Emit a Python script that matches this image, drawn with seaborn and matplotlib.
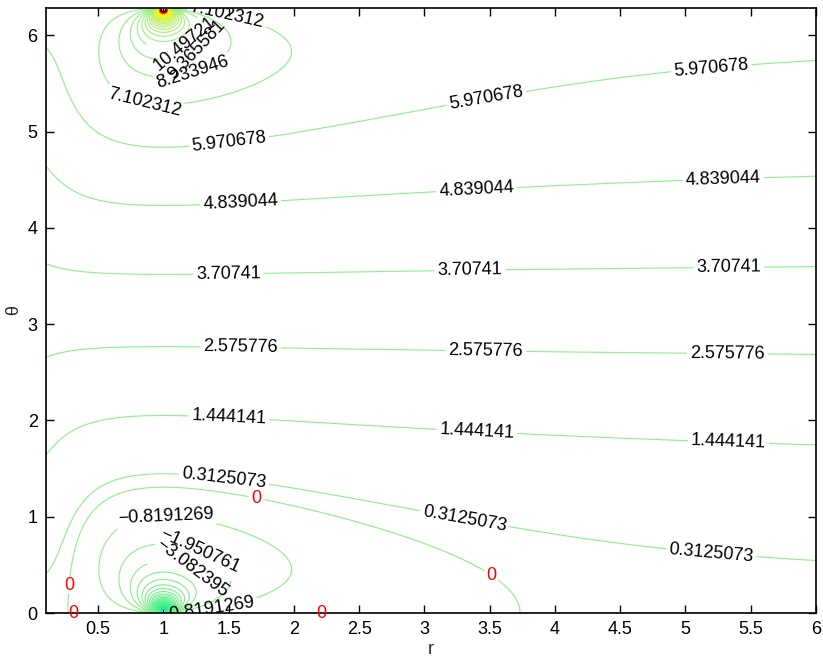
import numpy as np
import matplotlib
matplotlib.use("Agg")
import matplotlib.pyplot as plt
from matplotlib.colors import LinearSegmentedColormap
import seaborn as sns

# ---- data ----
r_range = [0.1, 6.0]
theta_range = [0.0, 2 * np.pi]
dipole_strength = 2.0          # f = theta + k * Im(1/(z-1)),  z = r e^{i theta}
level_step = 1.131634
labeled_levels = [-3.082395, -1.950761, -0.8191269, 0.3125073, 1.444141,
                  2.575776, 3.70741, 4.839044, 5.970678, 7.102312,
                  8.233946, 9.365581, 10.49721]
zero_level = [0.0]
x_ticks = [0.5, 1, 1.5, 2, 2.5, 3, 3.5, 4, 4.5, 5, 5.5, 6]
y_ticks = [0, 1, 2, 3, 4, 5, 6]

# label anchor points (r, theta) per level
label_points = {
    10.49721: [(1.12, 6.02)],
    9.365581: [(1.24, 5.88)],
    8.233946: [(1.22, 5.64)],
    7.102312: [(0.86, 5.36), (1.48, 6.16)],
    5.970678: [(1.50, 4.91), (3.48, 5.30), (5.20, 5.64)],
    4.839044: [(1.59, 4.25), (3.40, 4.38), (5.29, 4.49)],
    3.70741: [(1.50, 3.52), (3.35, 3.55), (5.33, 3.58)],
    2.575776: [(1.59, 2.73), (3.47, 2.70), (5.32, 2.67)],
    1.444141: [(1.50, 2.01), (3.40, 1.87), (5.33, 1.77)],
    0.3125073: [(1.46, 1.36), (3.31, 1.00), (5.20, 0.64)],
    -0.8191269: [(1.02, 1.07), (1.33, 0.07)],
    -1.950761: [(1.30, 0.72)],
    -3.082395: [(1.22, 0.48)],
    0.0: [(0.29, 0.28), (1.71, 1.17), (3.50, 0.37)],
}
zero_axis_labels = [(0.31, 0.0), (2.21, 0.0)]

# ---- field ----
r = np.linspace(r_range[0], r_range[1], 1400)
th = np.linspace(theta_range[0], theta_range[1], 1400)
R, TH = np.meshgrid(r, th)
with np.errstate(divide="ignore", invalid="ignore"):
    F = TH - dipole_strength * R * np.sin(TH) / (R**2 - 2 * R * np.cos(TH) + 1)
F = np.nan_to_num(np.clip(F, -200, 200), nan=0.0)

extra_low = [labeled_levels[0] - level_step * i for i in range(1, 45)]
extra_high = [labeled_levels[-1] + level_step * i for i in range(1, 45)]
unlabeled_levels = sorted(extra_low + extra_high)

cmap = LinearSegmentedColormap.from_list(
    "gp", [(0.0, "#00e8a0"), (0.30, "#50f090"), (0.45, "#8cee8c"),
           (0.55, "#8cee8c"), (0.66, "#c8f060"), (0.80, "#ffff00"),
           (0.92, "#ff3000"), (1.0, "#600000")])
lo, hi = np.pi - 52, np.pi + 52
def level_color(v):
    return cmap(float(np.clip((v - lo) / (hi - lo), 0, 1)))

# ---- plot ----
sns.set_style("ticks")
plt.rcParams["font.family"] = ["Liberation Sans", "DejaVu Sans"]
plt.rcParams["contour.negative_linestyle"] = "solid"
fig = plt.figure(figsize=(8.23, 6.59), dpi=100)
ax = fig.add_axes([46 / 823, 46 / 659, (816 - 46) / 823, (613 - 8) / 659])

ax.contour(R, TH, F, levels=unlabeled_levels,
           colors=[level_color(v) for v in unlabeled_levels], linewidths=0.8,
           linestyles="solid")

def fmt(v):
    return ("%.7g" % v).replace("-", "\u2212")

for lev in labeled_levels + zero_level:
    c = ax.contour(R, TH, F, levels=[lev], colors=[level_color(lev)],
                   linewidths=0.8, linestyles="solid")
    pts = label_points.get(lev)
    if not pts:
        continue
    if lev == 0.0:
        texts = ax.clabel(c, manual=pts, inline=True, fontsize=13, fmt={lev: "0"},
                          colors="red", inline_spacing=3)
        for t in texts:
            t.set_rotation(0)
    else:
        ax.clabel(c, manual=pts, inline=True, fontsize=13, fmt={lev: fmt(lev)},
                  colors="black", inline_spacing=3)

for (x0, y0) in zero_axis_labels:
    ax.text(x0, y0, "0", color="red", fontsize=13, ha="center", va="center",
            clip_on=False)

ax.set_xlim(*r_range)
ax.set_ylim(*theta_range)
ax.set_xticks(x_ticks)
ax.set_xticklabels([("%g" % t) for t in x_ticks])
ax.set_yticks(y_ticks)
ax.tick_params(direction="in", top=True, right=True, length=6, width=1,
               labelsize=13, colors="black", pad=6)
for s in ax.spines.values():
    s.set_linewidth(1.2)
    s.set_color("black")
ax.set_xlabel("r", fontsize=13, labelpad=2)
ax.set_ylabel("\u03b8", fontsize=13, labelpad=4)

fig.savefig("out.png", dpi=100)
